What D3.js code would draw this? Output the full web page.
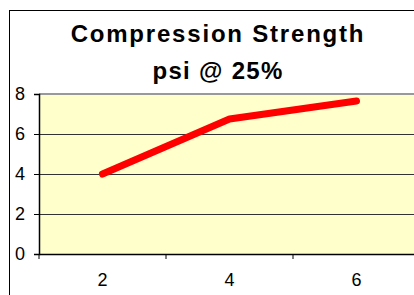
<!DOCTYPE html>
<html>
<head>
<meta charset="utf-8">
<script src="https://cdn.jsdelivr.net/npm/d3@7"></script>
<style>
  body { margin: 0; background: #fff; }
  svg { display: block; font-family: "Liberation Sans", Arial, sans-serif; }
</style>
</head>
<body>
<div id="chart"></div>
<script>
// chart data
const categories = ["2", "4", "6"];
const strength = [4.0, 6.75, 7.65];
const yTicks = [0, 2, 4, 6, 8];
const titleLines = ["Compression Strength", "psi @ 25%"];

const W = 414, H = 295;
const margin = {left: 39, top: 94, right: -6, bottom: 41};
const width = W - margin.left - margin.right;
const height = H - margin.top - margin.bottom;

const svg = d3.select("#chart").append("svg")
    .attr("width", W)
    .attr("height", H);

// outer chart border
svg.append("rect")
    .attr("x", 9.5).attr("y", 10.5)
    .attr("width", 420).attr("height", 300)
    .attr("fill", "#fff").attr("stroke", "#000");

// title
svg.selectAll("text.title")
    .data(titleLines)
    .join("text")
    .attr("class", "title")
    .attr("x", 218)
    .attr("y", (d, i) => 42 + i * 37)
    .attr("text-anchor", "middle")
    .style("font-size", "24px")
    .style("font-weight", "bold")
    .style("letter-spacing", (d, i) => i === 0 ? "1.8px" : "1.3px")
    .text(d => d);

const g = svg.append("g")
    .attr("transform", `translate(${margin.left}, ${margin.top})`);

const x = d3.scaleBand().domain(categories).range([0, width]);
const y = d3.scaleLinear().domain([0, 8]).range([height, 0]);

// plot background
g.append("rect")
    .attr("width", width).attr("height", height)
    .attr("fill", "#ffffcc");

// gridlines
g.selectAll("line.grid")
    .data(yTicks.filter(d => d > 0 && d < 8))
    .join("line")
    .attr("class", "grid")
    .attr("x1", 0).attr("x2", width)
    .attr("y1", d => Math.round(y(d)) + 0.5)
    .attr("y2", d => Math.round(y(d)) + 0.5)
    .attr("stroke", "#333");

// top border grey
g.append("line")
    .attr("x1", 0).attr("x2", width)
    .attr("y1", 0).attr("y2", 0)
    .attr("stroke", "#999").attr("stroke-width", 2);

// y axis
const yAxis = d3.axisLeft(y).tickValues(yTicks).tickSize(5).tickPadding(9);
g.append("g")
    .attr("class", "y-axis")
    .call(yAxis)
    .attr("font-size", 18)
    .attr("font-family", "Liberation Sans, Arial, sans-serif")
    .call(a => a.select(".domain").attr("stroke", "#000").attr("stroke-width", 1.5))
    .call(a => a.selectAll(".tick line").attr("stroke", "#000"))
    .call(a => a.selectAll("text").attr("fill", "#000"));

// x axis with ticks between categories
const xAxis = d3.axisBottom(x).tickSize(0).tickPadding(0);
const xg = g.append("g")
    .attr("class", "x-axis")
    .attr("transform", `translate(0, ${height})`)
    .call(xAxis)
    .attr("font-size", 18)
    .attr("font-family", "Liberation Sans, Arial, sans-serif")
    .call(a => a.select(".domain").attr("stroke", "#000").attr("stroke-width", 1.5))
    .call(a => a.selectAll("text").attr("y", 32).attr("dy", 0).attr("fill", "#000"));

xg.selectAll("line.sep")
    .data(categories)
    .join("line")
    .attr("class", "sep")
    .attr("x1", d => x(d)).attr("x2", d => x(d))
    .attr("y1", 0).attr("y2", 5)
    .attr("stroke", "#000");

// line
const line = d3.line()
    .x((d, i) => x(categories[i]) + x.bandwidth() / 2)
    .y(d => y(d));

g.append("path")
    .datum(strength)
    .attr("d", line)
    .attr("fill", "none")
    .attr("stroke", "#ff0000")
    .attr("stroke-width", 7)
    .attr("stroke-linecap", "round")
    .attr("stroke-linejoin", "round");
</script>
</body>
</html>
